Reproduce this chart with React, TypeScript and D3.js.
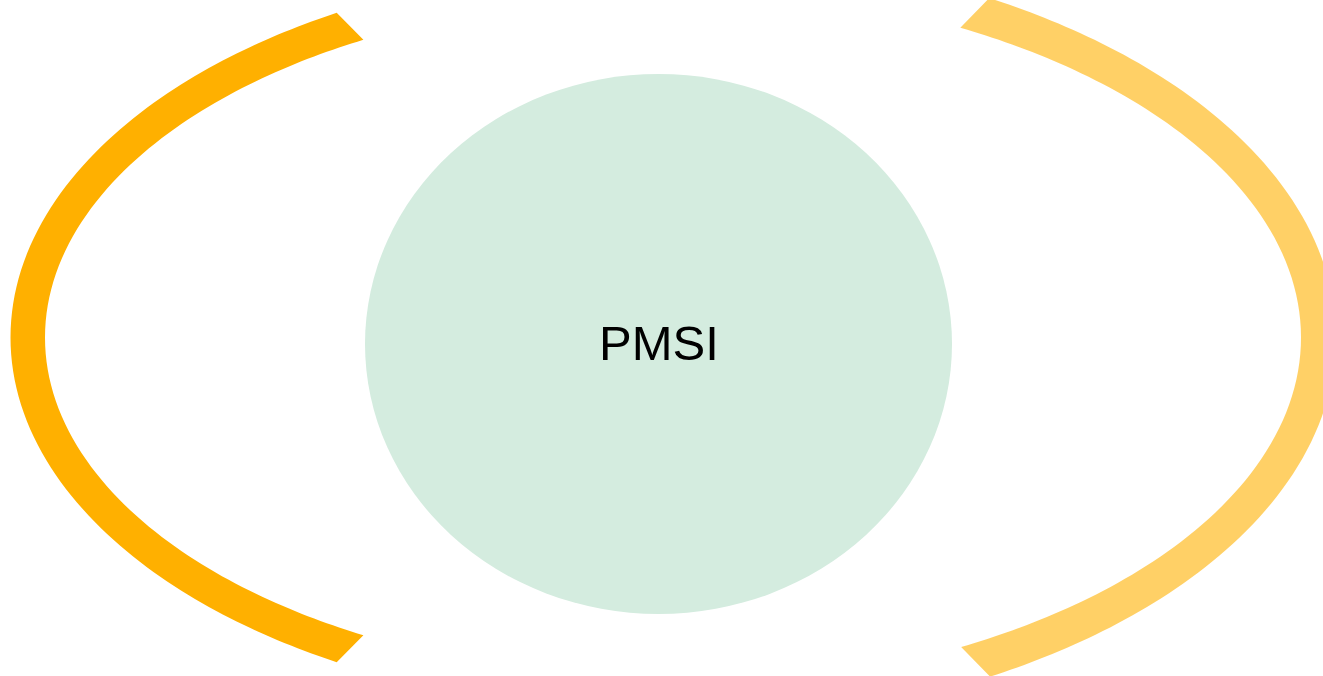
// @ts-nocheck
import React, { useEffect, useRef } from "react";
import * as d3 from "d3";

const width = 1323, height = 676;

// sets drawn in the diagram
const centerLabel = ["PMSI"];
// arc spans, in degrees (0 = up, clockwise)
const arcNames = ["left", "right"];
const arcStart = [224.7, 44.3];
const arcEnd = [315.3, 135.6];
const arcOpacity = [1, 0.6];

const toRad = (d: number) => (d * Math.PI) / 180;

// radius of an ellipse along a radial direction (d3 angle convention)
function ellipseR(a: number, rx: number, ry: number) {
  const s = Math.sin(a), c = Math.cos(a);
  return 1 / Math.sqrt((s / rx) * (s / rx) + (c / ry) * (c / ry));
}

export default function App() {
  const ref = useRef(null);

  useEffect(() => {
    document.body.style.margin = "0";
    const svg = d3.select(ref.current);
    svg.selectAll("*").remove();

    const cx = 658, cy = 337.5;
    // ellipse radii of each ring (inner / outer)
    const rings = [
      { rxIn: 613, ryIn: 339.5, rxOut: 647.5, ryOut: 374 },
      { rxIn: 643, ryIn: 351, rxOut: 678, ryOut: 389 },
    ];

    const g = svg.append("g").attr("transform", `translate(${cx},${cy})`);

    arcNames.forEach((name, i) => {
      const ring = rings[i];
      const angles = d3.range(0, 121).map(k =>
        toRad(arcStart[i] + (arcEnd[i] - arcStart[i]) * k / 120));
      const area = d3.areaRadial()
        .angle(a => a)
        .innerRadius(a => ellipseR(a, ring.rxIn, ring.ryIn))
        .outerRadius(a => ellipseR(a, ring.rxOut, ring.ryOut))
        .curve(d3.curveLinear);
      g.append("path")
        .attr("class", `arc-${name}`)
        .attr("d", area(angles))
        .attr("fill", "#ffb000")
        .attr("fill-opacity", arcOpacity[i]);
    });

    /* center set */
    svg.append("ellipse")
      .attr("cx", 658.5)
      .attr("cy", 344)
      .attr("rx", 293.5)
      .attr("ry", 270)
      .attr("fill", "#d4ecdf");

    svg.append("text")
      .attr("x", 659)
      .attr("y", 360)
      .attr("text-anchor", "middle")
      .style("font", "49px 'Liberation Sans', Arial, sans-serif")
      .attr("fill", "#000")
      .text(centerLabel[0]);
  }, []);

  return (
    <svg
      ref={ref}
      width={width}
      height={height}
      style={{ display: "block", position: "absolute", left: 0, top: 0 }}
    />
  );
}
